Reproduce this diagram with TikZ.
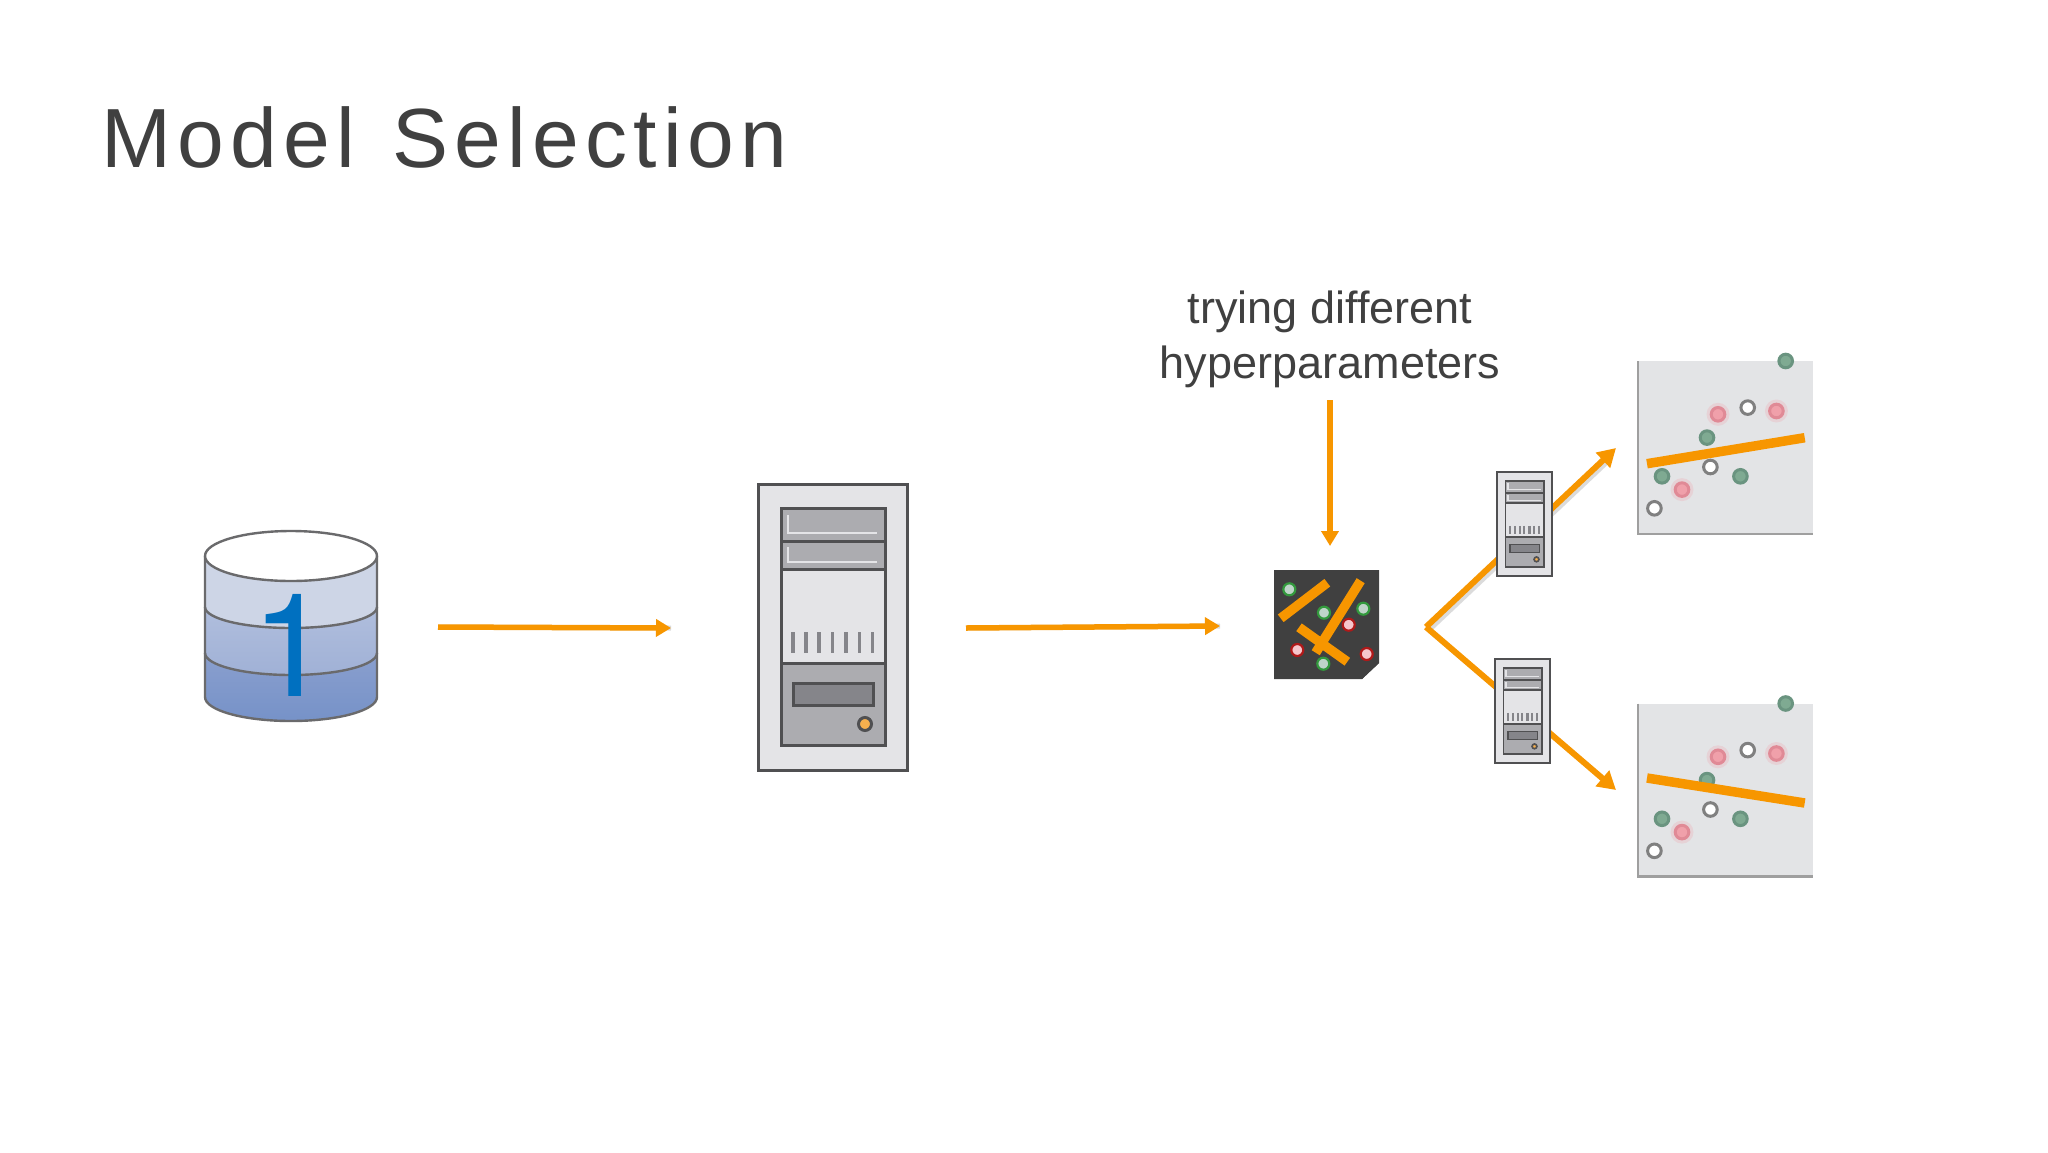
\documentclass[tikz,border=0pt]{standalone}
\usepackage{fontspec}
\setmainfont{Liberation Sans}
\newfontfamily\titlefont[LetterSpace=7.4]{Liberation Sans}
\newfontfamily\digitfont{TeX Gyre Heros}
\usetikzlibrary{arrows.meta}
\definecolor{arr}{HTML}{F79600}
\definecolor{txt}{HTML}{404040}
\definecolor{srvline}{HTML}{505052}
\definecolor{srvlight}{HTML}{E4E4E7}
\definecolor{srvgrey}{HTML}{ACACB0}
\definecolor{srvdark}{HTML}{85858A}
\definecolor{gfill}{HTML}{7FAA92}
\definecolor{gedge}{HTML}{6A9480}
\definecolor{rfill}{HTML}{F0A0AA}
\definecolor{redge}{HTML}{E08A96}
\definecolor{plotbg}{HTML}{E3E4E6}
\definecolor{bandA}{HTML}{CDD5E6}
\definecolor{bandBt}{HTML}{B0BEDD}
\definecolor{bandBb}{HTML}{A0B1D6}
\definecolor{bandCt}{HTML}{8A9FCE}
\definecolor{bandCb}{HTML}{7692C8}
\definecolor{ledc}{HTML}{F7B04E}
\tikzset{
  x=1pt,y=-1pt,
  flow/.style={draw=arr,line width=5.5pt,-{Triangle[length=15pt,width=17pt]}},
  flowbig/.style={draw=arr,line width=6pt,-{Triangle[length=18pt,width=20pt]}},
  flowshade/.style={draw=gray,line width=5pt,opacity=.28},
  thickbar/.style={draw=arr,line width=9.5pt},
  lbl/.style={font=\fontsize{45}{55}\selectfont,text=txt,align=center,inner sep=0pt},
  ghost/.style={inner sep=0pt,draw=none},
  dbline/.style={draw=srvline!85,line width=2.4pt},
}
% x y xscale yscale linewidth
\newcommand{\srvdraw}[5]{%
\begin{scope}[shift={(#1,#2)},xscale=#3,yscale=#4,draw=srvline,line width=#5pt]
  \draw[fill=srvlight] (0,0) rectangle (149,286);
  \draw[fill=srvgrey] (23,24) rectangle (127,57);
  \draw[fill=srvgrey] (23,57) rectangle (127,85);
  \draw[fill=srvlight] (23,85) rectangle (127,179);
  \draw[fill=srvgrey] (23,179) rectangle (127,261);
  \draw[draw=srvlight,line width=#5*.7pt] (30,31) -- (30,49) -- (119,49);
  \draw[draw=srvlight,line width=#5*.7pt] (30,63) -- (30,78) -- (119,78);
  \foreach \bx in {35,48,61,74.3,88,101.3,114.3}
    \draw[draw=srvdark,line width=#5*1.2pt] (\bx,148) -- (\bx,169);
  \draw[fill=srvdark] (35,199) rectangle (115,221);
  \draw[fill=ledc] (107,240) circle (6.5);
\end{scope}}
\newcommand{\pointdraw}[4]{\draw[fill=#3,draw=#4,line width=3pt] (#1,#2) circle (6.8);}
\newcommand{\redpoint}[2]{\fill[rfill,opacity=.25] (#1,#2) circle (11.5);\pointdraw{#1}{#2}{rfill}{redge}}
\newcommand{\scatterdots}{%
\begin{scope}[shift={(-18.3,-20.7)}]
  \pointdraw{166}{20.7}{gfill}{gedge}
  \pointdraw{87.3}{97.3}{gfill}{gedge}
  \pointdraw{42.3}{136}{gfill}{gedge}
  \pointdraw{120.7}{136}{gfill}{gedge}
  \redpoint{98.3}{74}
  \redpoint{156.7}{70.7}
  \redpoint{62.3}{149.3}
  \pointdraw{128}{67.3}{white}{gray}
  \pointdraw{90.7}{126.7}{white}{gray}
  \pointdraw{34.7}{168}{white}{gray}
\end{scope}}
\begin{document}
\begin{tikzpicture}
\useasboundingbox (0,0) rectangle (2048,1152);
\fill[white] (0,0) rectangle (2048,1152);

\node[anchor=base west,inner sep=0pt,text=txt] (title) at (101,167)
  {\fontsize{84}{90}\titlefont Model\hspace{8pt} Selection};

% database
\node[ghost,minimum width=172pt,minimum height=190pt] (db) at (291,626) {};
\fill[bandA] (205,556) -- (377,556) -- (377,607) arc[start angle=0,end angle=180,x radius=86,y radius=21] -- cycle;
\path[top color=bandBt,bottom color=bandBb]
  (205,607) arc[start angle=180,end angle=0,x radius=86,y radius=21] -- (377,653) arc[start angle=0,end angle=180,x radius=86,y radius=22] -- cycle;
\path[top color=bandCt,bottom color=bandCb]
  (205,653) arc[start angle=180,end angle=0,x radius=86,y radius=22] -- (377,697) arc[start angle=0,end angle=180,x radius=86,y radius=24] -- cycle;
\draw[dbline] (205,607) arc[start angle=180,end angle=0,x radius=86,y radius=21];
\draw[dbline] (205,653) arc[start angle=180,end angle=0,x radius=86,y radius=22];
\draw[dbline] (205,556) -- (205,697) arc[start angle=180,end angle=0,x radius=86,y radius=24] -- (377,556);
\draw[dbline,fill=white] (291,556) ellipse[x radius=86,y radius=25];
\node[inner sep=0pt,text={rgb,255:red,0;green,112;blue,192}] (one) at (292,645.5) {\fontsize{144}{150}\digitfont 1};

% main server
\srvdraw{758}{484}{1}{1}{3}
\node[ghost,minimum width=149pt,minimum height=286pt] (server) at (832.5,627) {};

% hyperparameter plot
\node[ghost,minimum width=105pt,minimum height=109pt] (hyper) at (1326.5,624.5) {};
\fill[txt] (1274,570) -- (1379,570) -- (1379,663) -- (1362,679) -- (1274,679) -- cycle;
\fill[black!75] (1379,663) -- (1362,679) -- (1364,666) -- cycle;
\foreach \hx/\hy in {1289.3/589.3,1324/612.7,1363.3/608.7,1323.3/663.7}
  \draw[fill=gfill!50!white,draw=gedge!60!green!80!black,line width=2.2pt] (\hx,\hy) circle (6);
\foreach \hx/\hy in {1348.7/624.7,1297.3/650,1366.7/654}
  \draw[fill=rfill!60!white,draw=red!65!black!90!white,line width=2.2pt] (\hx,\hy) circle (6);
\draw[thickbar] (1280.7,618.3) -- (1327.3,582.7);
\draw[thickbar] (1360.7,580.7) -- (1315.7,652.7);
\draw[thickbar] (1299,627.3) -- (1347.3,661.7);

% connectors
\coordinate (a1s) at (438,627);
\coordinate (a1e) at (671,628);
\coordinate (a2s) at (966,628);
\coordinate (a2e) at (1220,626);
\coordinate (a3s) at (1330,400);
\coordinate (a3e) at (1330,546);
\coordinate (fork) at (1426,627);
\coordinate (up) at (1616,448);
\coordinate (down) at (1616,790);
\coordinate (upS) at (1429,630);
\coordinate (upE) at (1608,461);
\coordinate (dnE) at (1608,783);
\foreach \sa/\sb in {a1s/a1e,a2s/a2e}
  \draw[flowshade,shift={(0,2.5)}] (\sa) -- (\sb);
\draw[flowshade,shift={(-1.5,3)}] (upS) -- (upE);
\draw[flowshade,shift={(-1.5,3)}] (upS) -- (dnE);
\draw[flow] (a1s) -- (a1e);
\draw[flow] (a2s) -- (a2e);
\draw[flow] (a3s) -- (a3e);
\draw[flowbig] (fork) -- (up);
\draw[flowbig] (fork) -- (down);

% small servers
\srvdraw{1497}{472}{.369}{.364}{1.7}
\node[ghost,minimum width=55pt,minimum height=104pt] (srvA) at (1524.5,524) {};
\srvdraw{1495}{659}{.369}{.364}{1.7}
\node[ghost,minimum width=55pt,minimum height=104pt] (srvB) at (1522.5,711) {};

% scatter plots
\begin{scope}[shift={(1638,361)}]
  \fill[plotbg] (0,0) rectangle (175,173);
  \draw[gray!75,line width=2.6pt] (0,0) -- (0,173) -- (175,173);
  \scatterdots
  \draw[thickbar] (9,102.7) -- (166.7,76.7);
\end{scope}
\node[ghost,minimum width=175pt,minimum height=173pt] (plotA) at (1725.5,447.5) {};
\begin{scope}[shift={(1638,703.5)}]
  \fill[plotbg] (0,0) rectangle (175,173);
  \draw[gray!75,line width=2.6pt] (0,0) -- (0,173) -- (175,173);
  \scatterdots
  \draw[thickbar] (9,74.5) -- (166.7,99.5);
\end{scope}
\node[ghost,minimum width=175pt,minimum height=173pt] (plotB) at (1725.5,790) {};

\node[lbl] (hyplabel) at (1330,339) {trying different\\hyperparameters};
\end{tikzpicture}
\end{document}
